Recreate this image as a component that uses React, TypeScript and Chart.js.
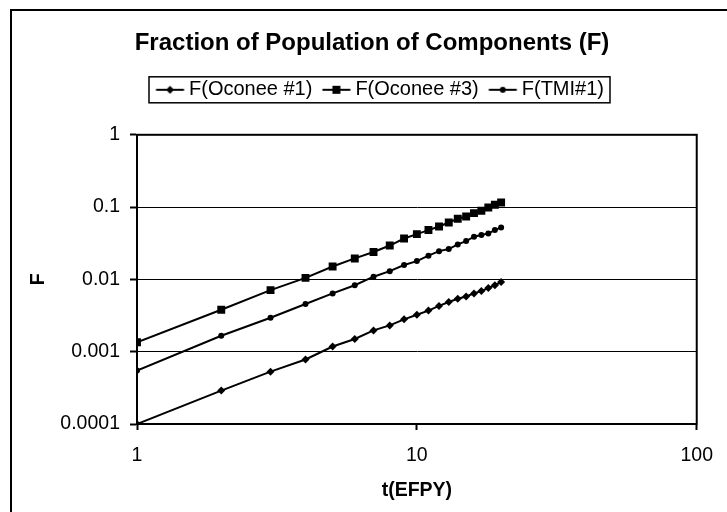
import React, { useEffect, useRef } from 'react';
import { Chart, registerables } from 'chart.js';

Chart.register(...registerables);

const TIMES = [1, 2, 3, 4, 5, 6, 7, 8, 9, 10, 11, 12, 13, 14, 15, 16, 17, 18, 19, 20];
const OCONEE1 = [0.0001, 0.00029, 0.00053, 0.00078, 0.00118, 0.0015, 0.00197, 0.00231, 0.0028, 0.00325, 0.0037, 0.0043, 0.00486, 0.0054, 0.0058, 0.0064, 0.0069, 0.0076, 0.0083, 0.0092];
const OCONEE3 = [0.00135, 0.0038, 0.0071, 0.0105, 0.0151, 0.0195, 0.0239, 0.0294, 0.0368, 0.0423, 0.0481, 0.054, 0.0612, 0.0689, 0.0741, 0.0826, 0.0889, 0.0987, 0.1076, 0.1158];
const TMI1 = [0.00055, 0.00166, 0.00295, 0.00457, 0.0064, 0.0083, 0.0109, 0.013, 0.0158, 0.0179, 0.0213, 0.0246, 0.0263, 0.0305, 0.0339, 0.039, 0.041, 0.0433, 0.0481, 0.0524];
const SERIES_LABELS = ['F(Oconee #1)', 'F(Oconee #3)', 'F(TMI#1)'];
const Y_TICKS = [0.0001, 0.001, 0.01, 0.1, 1];
const X_TICKS = [1, 10, 100];
const TITLE = 'Fraction of Population of Components (F)';
const X_TITLE = 't(EFPY)';
const Y_TITLE = 'F';

const FONT = "'Liberation Sans', Arial, sans-serif";
const LEGEND_SHIFT = 8;

function drawMarker(ctx: CanvasRenderingContext2D, style: string, x: number, y: number) {
  ctx.beginPath();
  if (style === 'rectRot') {
    const r = 4;
    ctx.moveTo(x - r, y);
    ctx.lineTo(x, y - r);
    ctx.lineTo(x + r, y);
    ctx.lineTo(x, y + r);
    ctx.closePath();
  } else if (style === 'rect') {
    ctx.rect(x - 4, y - 4, 8, 8);
  } else {
    ctx.arc(x, y, 3, 0, Math.PI * 2);
  }
  ctx.fill();
}

function makeIcon(style: string): HTMLCanvasElement {
  const c = document.createElement('canvas');
  c.width = 40;
  c.height = 14;
  const ctx = c.getContext('2d')!;
  ctx.strokeStyle = '#000';
  ctx.fillStyle = '#000';
  ctx.lineWidth = 2;
  ctx.beginPath();
  ctx.moveTo(8.5, 7);
  ctx.lineTo(36.5, 7);
  ctx.stroke();
  drawMarker(ctx, style, 22.5, 7);
  return c;
}

const framePlugin = {
  id: 'frame',
  afterLayout(chart: any) {
    const lg = chart.legend;
    if (lg && !lg._shiftPatched) {
      const orig = lg.draw.bind(lg);
      lg.draw = (...args: any[]) => {
        const ctx = chart.ctx;
        ctx.save();
        ctx.translate(LEGEND_SHIFT, 0);
        orig(...args);
        ctx.restore();
      };
      lg._shiftPatched = true;
    }
  },
  beforeDatasetsDraw(chart: any) {
    const { ctx, chartArea: a } = chart;
    ctx.save();
    ctx.strokeStyle = '#000';
    ctx.lineWidth = 2;
    ctx.strokeRect(a.left, a.top, a.right - a.left, a.bottom - a.top);
    ctx.restore();
  },
  afterDraw(chart: any) {
    const { ctx, legend } = chart;
    ctx.save();
    ctx.strokeStyle = '#000';
    ctx.lineWidth = 2;
    ctx.strokeRect(11, 10, chart.width + 20, chart.height + 20);
    const hb = legend && legend.legendHitBoxes;
    if (hb && hb.length) {
      const first = hb[0];
      const last = hb[hb.length - 1];
      const cy = first.top + first.height / 2;
      const left = first.left - 7 + LEGEND_SHIFT;
      const right = last.left + last.width + 6 + LEGEND_SHIFT;
      ctx.lineWidth = 1.5;
      ctx.strokeRect(left, cy - 13, right - left, 26);
    }
    ctx.restore();
  },
};

export default function App() {
  const ref = useRef<HTMLCanvasElement | null>(null);

  useEffect(() => {
    if (!ref.current) return;
    const styles = ['rectRot', 'rect', 'circle'];
    const radii = [4, 5.6, 3];
    const icons = styles.map(makeIcon);
    const seriesValues = [OCONEE1, OCONEE3, TMI1];
    const datasets = seriesValues.map((vals, i) => ({
      label: SERIES_LABELS[i],
      data: TIMES.map((t, j) => ({ x: t, y: vals[j] })),
      borderColor: '#000',
      backgroundColor: '#000',
      borderWidth: 2,
      pointStyle: styles[i],
      pointRadius: radii[i],
      pointBorderWidth: 0,
      pointBackgroundColor: '#000',
      tension: 0,
    }));

    const chart = new Chart(ref.current, {
      type: 'line',
      data: { datasets },
      plugins: [framePlugin],
      options: {
        responsive: false,
        animation: false,
        events: [],
        layout: { padding: { left: 33, right: 16, top: 0, bottom: 0 } },
        plugins: {
          tooltip: { enabled: false },
          title: {
            display: true,
            text: TITLE,
            color: '#000',
            font: { family: FONT, size: 24, weight: 'bold' },
            padding: { top: 29, bottom: 12 },
          },
          subtitle: {
            display: true,
            text: '',
            position: 'top',
            weight: 500,
            font: { family: FONT, size: 10, lineHeight: 1 },
            padding: { top: 15, bottom: 0 },
          },
          legend: {
            display: true,
            position: 'top',
            labels: {
              usePointStyle: true,
              pointStyleWidth: 23,
              padding: 10,
              color: '#000',
              font: { family: FONT, size: 20 },
              generateLabels: (c: any) =>
                c.data.datasets.map((ds: any, i: number) => ({
                  text: ds.label,
                  pointStyle: icons[i],
                  datasetIndex: i,
                  hidden: false,
                  lineWidth: 0,
                  strokeStyle: 'rgba(0,0,0,0)',
                  fillStyle: 'rgba(0,0,0,0)',
                  fontColor: '#000',
                })),
            },
          },
        },
        scales: {
          x: {
            type: 'logarithmic',
            position: 'bottom',
            min: 1,
            max: 100,
            afterBuildTicks: (s: any) => {
              s.ticks = X_TICKS.map((v) => ({ value: v }));
            },
            afterFit: (s: any) => {
              s.height = 88;
            },
            ticks: {
              color: '#000',
              font: { family: FONT, size: 19.5 },
              padding: 14,
              maxRotation: 0,
              autoSkip: false,
              callback: (v: any) => String(v),
            },
            grid: {
              drawOnChartArea: false,
              drawTicks: true,
              tickLength: 6,
              tickColor: '#000',
              tickWidth: 2,
            },
            border: { display: true, color: '#000', width: 2 },
            title: {
              display: true,
              text: X_TITLE,
              color: '#000',
              font: { family: FONT, size: 19.5, weight: 'bold' },
              padding: { top: 0, bottom: 10 },
            },
          },
          y: {
            type: 'logarithmic',
            min: 0.0001,
            max: 1,
            afterBuildTicks: (s: any) => {
              s.ticks = Y_TICKS.map((v) => ({ value: v }));
            },
            afterFit: (s: any) => {
              s.width = 104;
            },
            ticks: {
              color: '#000',
              font: { family: FONT, size: 19.5 },
              padding: 10,
              autoSkip: false,
              callback: (v: any) => String(v),
            },
            grid: {
              color: '#000',
              lineWidth: 1,
              drawTicks: true,
              tickLength: 7,
              tickColor: '#000',
              tickWidth: 2,
            },
            border: { display: true, color: '#000', width: 2 },
            title: {
              display: true,
              text: Y_TITLE,
              color: '#000',
              font: { family: FONT, size: 19.5, weight: 'bold' },
              padding: { top: -6, bottom: 0 },
            },
          },
        },
      } as any,
    });

    return () => chart.destroy();
  }, []);

  return (
    <div style={{ position: 'absolute', left: 0, top: 0, width: 727, height: 512, background: '#fff' }}>
      <canvas ref={ref} width={727} height={512} style={{ display: 'block' }} />
    </div>
  );
}
